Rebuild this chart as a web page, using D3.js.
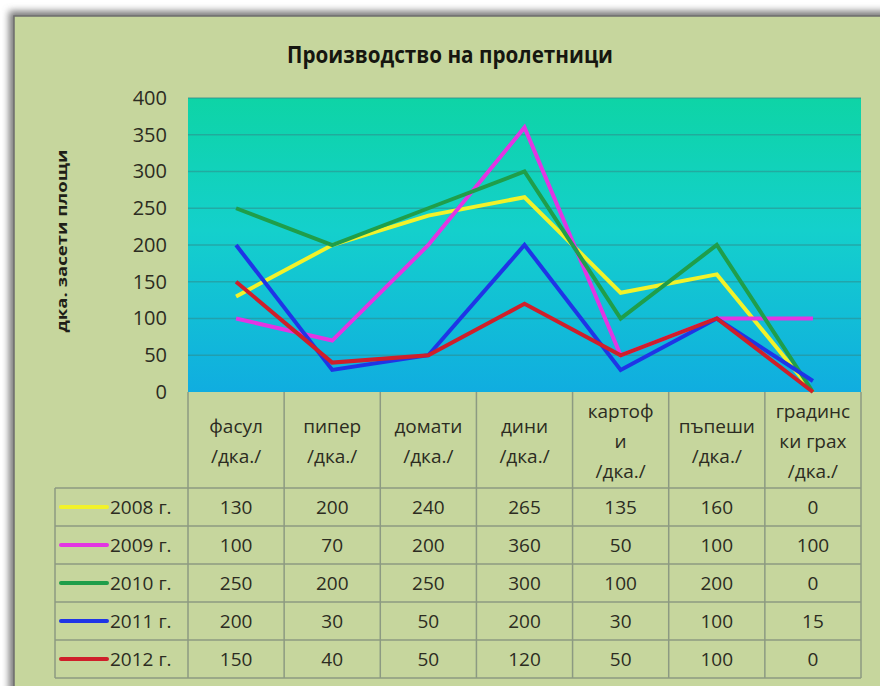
<!DOCTYPE html>
<html><head><meta charset="utf-8">
<script src="https://cdn.jsdelivr.net/npm/d3@7"></script>
<style>
html,body{margin:0;padding:0;background:#fff;}
svg{display:block;}
text{font-family:"Open Sans","Noto Sans",sans-serif;}
</style></head>
<body>
<svg id="c" width="880" height="686"></svg>
<script>
const title = "Производство на пролетници";
const yAxisTitle = "дка. засети площи";
const categories = ["фасул\n/дка./","пипер\n/дка./","домати\n/дка./","дини\n/дка./","картоф\nи\n/дка./","пъпеши\n/дка./","градинс\nки грах\n/дка./"];
const seriesNames = ["2008 г.","2009 г.","2010 г.","2011 г.","2012 г."];
const v2008 = [130,200,240,265,135,160,0];
const v2009 = [100,70,200,360,50,100,100];
const v2010 = [250,200,250,300,100,200,0];
const v2011 = [200,30,50,200,30,100,15];
const v2012 = [150,40,50,120,50,100,0];
const yTicks = [0,50,100,150,200,250,300,350,400];
const seriesColors = ["#f2f22a","#e335e3","#1f9e4a","#1f35e6","#cf1f2a"];

const seriesValues = [v2008,v2009,v2010,v2011,v2012];
const svg = d3.select("#c");
const defs = svg.append("defs");

// layout
const L = 188, R = 861, T = 98, B = 392;
const rowH = 38, tableTop = 488, tableLeft = 55;

// shadow + panel
const blur = defs.append("filter").attr("id","sh").attr("x","-5%").attr("y","-5%").attr("width","110%").attr("height","110%");
blur.append("feGaussianBlur").attr("stdDeviation",3.5);
svg.append("rect").attr("x",9).attr("y",11).attr("width",900).attr("height",700).attr("fill","#7a7a7a").attr("filter","url(#sh)");
svg.append("rect").attr("x",14).attr("y",16).attr("width",900).attr("height",700)
  .attr("fill","#c6d69d").attr("stroke","#6e6e6e").attr("stroke-width",1.5);

// plot gradient
const g = defs.append("linearGradient").attr("id","pg").attr("x1",0).attr("y1",0).attr("x2",0).attr("y2",1);
g.append("stop").attr("offset","0%").attr("stop-color","#0ed4a6");
g.append("stop").attr("offset","45%").attr("stop-color","#14d0cc");
g.append("stop").attr("offset","100%").attr("stop-color","#10ade0");

const x = d3.scaleBand().domain(categories).range([L,R]);
const y = d3.scaleLinear().domain([0,400]).range([B,T]);

svg.append("rect").attr("x",L).attr("y",T).attr("width",R-L).attr("height",B-T).attr("fill","url(#pg)");

// gridlines
svg.append("g").selectAll("line").data(yTicks.filter(d=>d>0)).join("line")
  .attr("x1",L).attr("x2",R).attr("y1",d=>y(d)).attr("y2",d=>y(d))
  .attr("stroke","#2f8a8a").attr("stroke-opacity",0.55).attr("stroke-width",1.5);

// y axis
const ya = svg.append("g").attr("transform",`translate(${L},0)`)
  .call(d3.axisLeft(y).tickValues(yTicks).tickSize(0).tickPadding(21));
ya.select(".domain").remove();
ya.selectAll("text").attr("font-size",20).attr("fill","#2c2c22").attr("font-family","'Open Sans',sans-serif");

// y axis title
svg.append("text").attr("transform","translate(67,241) rotate(-90)")
  .attr("text-anchor","middle").attr("font-size",15).attr("font-weight","bold").attr("fill","#1f1f18")
  .attr("textLength",183).attr("lengthAdjust","spacingAndGlyphs").text(yAxisTitle);

// title
svg.append("text").attr("x",450).attr("y",63).attr("text-anchor","middle")
  .attr("font-size",23).attr("font-weight","bold").attr("fill","#161610")
  .attr("textLength",326).attr("lengthAdjust","spacingAndGlyphs").text(title);

// lines
const line = d3.line().x((d,i)=>x(categories[i])+x.bandwidth()/2).y(d=>y(d));
svg.append("g").selectAll("path").data(seriesValues).join("path")
  .attr("d",line).attr("fill","none").attr("stroke",(d,i)=>seriesColors[i])
  .attr("stroke-width",4).attr("stroke-linejoin","miter");

// table
const tb = svg.append("g");
const stroke = "#8c9a82";
const tableBottom = tableTop + rowH*seriesNames.length;
// vertical lines
const vx = categories.map(c=>x(c)).concat([R]);
tb.selectAll("line.v").data(vx).join("line").attr("class","v")
  .attr("x1",d=>d).attr("x2",d=>d).attr("y1",B).attr("y2",tableBottom)
  .attr("stroke",stroke).attr("stroke-width",1.5);
tb.append("line").attr("x1",tableLeft).attr("x2",tableLeft).attr("y1",tableTop).attr("y2",tableBottom)
  .attr("stroke",stroke).attr("stroke-width",1.5);
// horizontal lines
const hy = d3.range(seriesNames.length+1).map(i=>tableTop+i*rowH);
tb.selectAll("line.h").data(hy).join("line").attr("class","h")
  .attr("x1",tableLeft).attr("x2",R).attr("y1",d=>d).attr("y2",d=>d)
  .attr("stroke",stroke).attr("stroke-width",1.5);

// category labels
categories.forEach(c=>{
  const lines = c.split("\n");
  const cx = x(c)+x.bandwidth()/2;
  const t = tb.append("text").attr("text-anchor","middle").attr("font-size",19).attr("fill","#2c2c22");
  const y0 = 441 - (lines.length-1)*30/2;
  lines.forEach((ln,k)=>{
    t.append("tspan").attr("x",cx).attr("y",y0+k*30).attr("dy","0.35em").text(ln);
  });
});

// rows
seriesNames.forEach((s,i)=>{
  const cy = tableTop + i*rowH + rowH/2;
  tb.append("line").attr("x1",61).attr("x2",107).attr("y1",cy).attr("y2",cy)
    .attr("stroke",seriesColors[i]).attr("stroke-width",4).attr("stroke-linecap","round");
  tb.append("text").attr("x",110).attr("y",cy).attr("dy","0.35em").attr("font-size",19).attr("fill","#2c2c22").text(s);
  seriesValues[i].forEach((v,j)=>{
    tb.append("text").attr("x",x(categories[j])+x.bandwidth()/2).attr("y",cy).attr("dy","0.35em")
      .attr("text-anchor","middle").attr("font-size",19).attr("fill","#2c2c22").text(v);
  });
});
</script>
</body></html>
